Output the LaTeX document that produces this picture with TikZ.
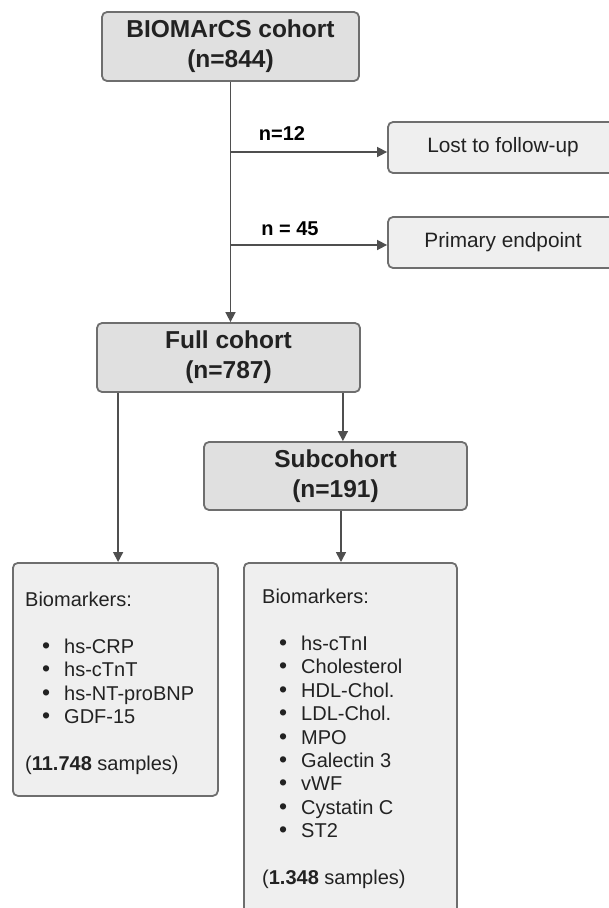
\documentclass[tikz,border=0pt]{standalone}
\usepackage{fontspec}
\setmainfont{Liberation Sans}
\usetikzlibrary{arrows.meta,calc}
\definecolor{boxdark}{HTML}{E0E0E0}
\definecolor{boxlight}{HTML}{EFEFEF}
\definecolor{edge}{HTML}{6E6E6E}
\definecolor{wire}{HTML}{4F4F4F}
\definecolor{ink}{HTML}{222222}
\tikzset{
  box/.style={draw=edge, line width=1.8pt, rounded corners=5pt, inner sep=0pt},
  mainbox/.style={box, fill=boxdark, font=\fontsize{24.5}{30}\selectfont\bfseries, text=ink, align=center},
  sidebox/.style={box, fill=boxlight, font=\fontsize{20.8}{24}\selectfont, text=ink},
  arr/.style={draw=wire, line width=1.6pt, -{Triangle[length=10pt,width=10pt]}},
  lbl/.style={font=\fontsize{20}{24}\selectfont\bfseries, text=black, inner sep=0pt},
  listtxt/.style={font=\fontsize{20}{23.4}\selectfont, text=ink, align=left, inner sep=0pt, anchor=north west}
}
\newcommand{\itm}[1]{\hspace*{17pt}\makebox[22pt][l]{\scalebox{1.15}{\textbullet}}#1}
\begin{document}
\begin{tikzpicture}[x=1pt,y=-1pt]
\useasboundingbox (0,0) rectangle (609,908);
\clip (0,0) rectangle (609,908);
\node[mainbox, minimum width=257, minimum height=69] (top) at (230.5,46.5) {BIOMArCS cohort\\(n=844)};
\node[sidebox, minimum width=230, minimum height=51] (lost) at (503,147.5) {Lost to follow-up};
\node[sidebox, minimum width=230, minimum height=51] (prim) at (503,242.5) {Primary endpoint};
\node[mainbox, minimum width=263, minimum height=69] (full) at (228.5,357.5) {Full cohort\\(n=787)};
\node[mainbox, minimum width=263, minimum height=68] (sub) at (335.5,476) {Subcohort\\(n=191)};
\node[box, fill=boxlight, minimum width=205, minimum height=233, anchor=north west] (bioL) at (12,562) {};
\node[box, fill=boxlight, minimum width=213, minimum height=400, anchor=north west] (bioR) at (243,562) {};
\node[listtxt] (bioLtxt) at (25,592) {Biomarkers:\\[23.4pt]
\itm{hs-CRP}\\\itm{hs-cTnT}\\\itm{hs-NT-proBNP}\\\itm{GDF-15}\\[23.4pt]
(\textbf{11.748} samples)};
\node[listtxt] (bioRtxt) at (262,589) {Biomarkers:\\[23.4pt]
\itm{hs-cTnI}\\\itm{Cholesterol}\\\itm{HDL-Chol.}\\\itm{LDL-Chol.}\\\itm{MPO}\\\itm{Galectin 3}\\\itm{vWF}\\\itm{Cystatin C}\\\itm{ST2}\\[23.4pt]
(\textbf{1.348} samples)};
\coordinate (b1) at (top.south |- 0,152);
\coordinate (b2) at (top.south |- 0,245);
\draw[arr] (top.south) -- (top.south |- full.north);
\draw[arr] (b1) -- (b1 -| lost.west);
\draw[arr] (b2) -- (b2 -| prim.west);
\node[lbl] (l12) at (282,134) {n=12};
\node[lbl] (l45) at (290,229) {n = 45};
\coordinate (fL) at ([xshift=22pt]full.south west);
\coordinate (fR) at ([xshift=-18pt]full.south east);
\coordinate (sB) at ([xshift=5.5pt]sub.south);
\draw[arr] (fL) -- (fL |- bioL.north);
\draw[arr] (fR) -- (fR |- sub.north);
\draw[arr] (sB) -- (sB |- bioR.north);
\end{tikzpicture}
\end{document}
